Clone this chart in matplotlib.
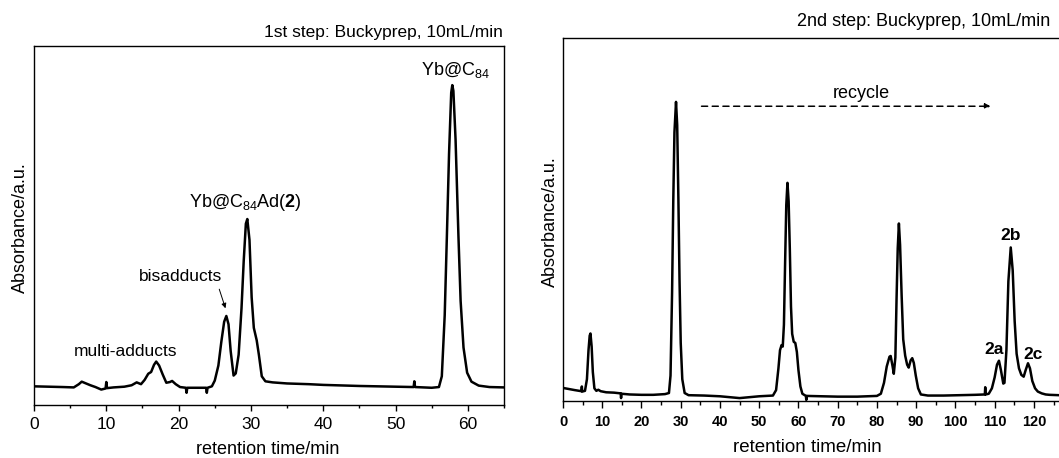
import matplotlib
matplotlib.use('Agg')
import matplotlib.pyplot as plt
from matplotlib.ticker import MultipleLocator

plt.rcParams['font.family'] = ['Liberation Sans', 'DejaVu Sans']
plt.rcParams['mathtext.fontset'] = 'custom'
plt.rcParams['mathtext.rm'] = 'Liberation Sans'
plt.rcParams['mathtext.bf'] = 'Liberation Sans:bold'
plt.rcParams['mathtext.it'] = 'Liberation Sans:italic'

# 1st step chromatogram (time in min, absorbance a.u.)
t1 = [0.0, 2.0, 4.0, 5.5, 6.2, 6.6, 7.2, 7.8, 8.5, 9.3, 9.9, 10.0, 10.1, 11.0,
      12.5, 13.5, 14.2, 14.8, 15.3, 15.8, 16.2, 16.6, 16.9, 17.3, 17.8, 18.3,
      18.8, 19.1, 19.6, 20.2, 21.0, 21.1, 21.2, 22.5, 23.8, 23.9, 24.0, 24.6,
      25.0, 25.5, 25.9, 26.3, 26.6, 26.9, 27.2, 27.6, 27.9, 28.3, 28.7, 29.0,
      29.3, 29.5, 29.8, 30.1, 30.4, 30.8, 31.1, 31.5, 32.0, 33.0, 35.0, 38.0,
      40.0, 45.0, 50.0, 52.5, 52.6, 52.7, 55.0, 56.0, 56.4, 56.8, 57.1, 57.4,
      57.7, 57.85, 58.0, 58.3, 58.7, 59.0, 59.4, 59.9, 60.5, 61.5, 63.0, 65.0]
a1 = [0.052, 0.051, 0.050, 0.049, 0.058, 0.065, 0.060, 0.055, 0.050, 0.043,
      0.046, 0.064, 0.047, 0.049, 0.051, 0.055, 0.063, 0.058, 0.070, 0.087,
      0.092, 0.112, 0.121, 0.110, 0.085, 0.062, 0.064, 0.067, 0.058, 0.050,
      0.048, 0.034, 0.048, 0.048, 0.048, 0.034, 0.048, 0.052, 0.068, 0.110,
      0.175, 0.232, 0.248, 0.225, 0.150, 0.082, 0.088, 0.140, 0.270, 0.400,
      0.505, 0.518, 0.460, 0.300, 0.215, 0.180, 0.140, 0.080, 0.066, 0.063,
      0.060, 0.058, 0.056, 0.053, 0.051, 0.050, 0.066, 0.050, 0.048, 0.050,
      0.080, 0.250, 0.470, 0.700, 0.870, 0.891, 0.875, 0.740, 0.470, 0.290,
      0.160, 0.090, 0.065, 0.054, 0.050, 0.049]

# 2nd step chromatogram (recycling)
t2 = [0.0, 1.5, 3.0, 4.7, 4.8, 4.9, 5.6, 6.1, 6.5, 6.8, 7.0, 7.3, 7.6, 8.0,
      8.5, 9.0, 9.6, 11.0, 13.0, 14.7, 14.8, 14.9, 17.0, 20.0, 23.0, 26.0,
      27.0, 27.4, 27.8, 28.1, 28.4, 28.8, 29.1, 29.4, 29.7, 30.0, 30.4, 31.0,
      32.0, 36.0, 40.0, 45.0, 50.0, 53.5, 54.3, 54.9, 55.3, 55.7, 56.0, 56.3,
      56.6, 56.9, 57.2, 57.5, 57.8, 58.1, 58.4, 58.8, 59.2, 59.6, 60.0, 60.5,
      61.0, 61.9, 62.0, 62.1, 66.0, 70.0, 75.0, 80.0, 81.0, 81.8, 82.5, 83.2,
      83.5, 84.0, 84.3, 84.7, 85.0, 85.3, 85.6, 85.9, 86.3, 86.7, 87.2, 87.7,
      88.1, 88.6, 89.0, 89.4, 89.9, 90.5, 91.2, 93.0, 97.0, 101.0, 105.0,
      107.5, 107.6, 107.7, 108.5, 109.3, 110.0, 110.6, 111.1, 111.6, 112.2,
      112.5, 113.0, 113.5, 114.1, 114.6, 115.1, 115.6, 116.2, 116.8, 117.4,
      117.9, 118.5, 119.0, 119.6, 120.3, 121.0, 122.0, 123.0, 124.0, 126.4]
a2 = [0.036, 0.033, 0.030, 0.027, 0.040, 0.026, 0.028, 0.060, 0.140, 0.180,
      0.186, 0.150, 0.080, 0.035, 0.028, 0.031, 0.027, 0.024, 0.023, 0.021,
      0.008, 0.020, 0.018, 0.017, 0.017, 0.019, 0.022, 0.070, 0.300, 0.550,
      0.740, 0.824, 0.760, 0.560, 0.330, 0.160, 0.060, 0.022, 0.016, 0.015,
      0.013, 0.008, 0.013, 0.015, 0.030, 0.090, 0.140, 0.154, 0.150, 0.210,
      0.380, 0.540, 0.601, 0.550, 0.420, 0.260, 0.185, 0.163, 0.160, 0.135,
      0.085, 0.040, 0.020, 0.014, 0.003, 0.014, 0.013, 0.012, 0.012, 0.014,
      0.020, 0.050, 0.095, 0.122, 0.124, 0.095, 0.075, 0.120, 0.280, 0.420,
      0.489, 0.430, 0.290, 0.170, 0.125, 0.100, 0.092, 0.112, 0.118, 0.105,
      0.070, 0.035, 0.018, 0.015, 0.015, 0.016, 0.017, 0.018, 0.038, 0.018,
      0.020, 0.035, 0.065, 0.100, 0.111, 0.085, 0.048, 0.050, 0.140, 0.330,
      0.423, 0.360, 0.220, 0.130, 0.090, 0.072, 0.067, 0.085, 0.104, 0.090,
      0.055, 0.035, 0.026, 0.021, 0.018, 0.017, 0.016]

W, H = 1059, 458
fig = plt.figure(figsize=(W / 100, H / 100), dpi=100)

ax1 = fig.add_axes([34 / W, 53 / H, 470 / W, 359 / H])
ax2 = fig.add_axes([563 / W, 57 / H, 496 / W, 363 / H])

ax1.plot(t1, a1, color='k', lw=1.8)
ax2.plot(t2, a2, color='k', lw=1.8)

ax1.set_xlim(0, 65)
ax1.set_ylim(0, 1)
ax2.set_xlim(0, 126.4)
ax2.set_ylim(0, 1)
ax2.spines['right'].set_visible(False)

for ax in (ax1, ax2):
    ax.xaxis.set_major_locator(MultipleLocator(10))
    ax.xaxis.set_minor_locator(MultipleLocator(5))
    ax.tick_params(axis='y', left=False, labelleft=False)
    for s in ax.spines.values():
        s.set_linewidth(1.0)

ax1.tick_params(axis='x', which='major', direction='out', length=4.5, width=1.0,
                pad=4, labelsize=12.5)
ax1.tick_params(axis='x', which='minor', direction='out', length=2.5, width=1.0)
ax2.tick_params(axis='x', which='major', direction='out', length=5, width=1.0,
                pad=5, labelsize=10.5)
ax2.tick_params(axis='x', which='minor', direction='out', length=3, width=1.0)
for lab in ax2.get_xticklabels():
    lab.set_fontweight('bold')

# axis labels and titles
fig.text(268 / W, 1 - 450 / H, 'retention time/min', ha='center', va='center', fontsize=13)
fig.text(807 / W, 1 - 447 / H, 'retention time/min', ha='center', va='center', fontsize=13.5)
fig.text(20 / W, 1 - 228 / H, 'Absorbance/a.u.', rotation=90, ha='center', va='center', fontsize=13)
fig.text(550 / W, 1 - 222 / H, 'Absorbance/a.u.', rotation=90, ha='center', va='center', fontsize=13)
fig.text(503 / W, 1 - 32 / H, '1st step: Buckyprep, 10mL/min', ha='right', va='center', fontsize=12.5)
fig.text(1050 / W, 1 - 22 / H, '2nd step: Buckyprep, 10mL/min', ha='right', va='center', fontsize=13)

# peak labels, step 1
ax1.text(58.3, 0.933, r'Yb@C$_{\mathrm{84}}$', ha='center', va='center', fontsize=13)
ax1.text(29.3, 0.563, r'Yb@C$_{\mathrm{84}}$Ad($\mathbf{2}$)', ha='center', va='center', fontsize=13)
ax1.text(20.2, 0.357, 'bisadducts', ha='center', va='center', fontsize=12.5)
ax1.text(12.6, 0.150, 'multi-adducts', ha='center', va='center', fontsize=12.5)
ax1.annotate('', xy=(26.6, 0.262), xytext=(25.5, 0.33),
             arrowprops=dict(arrowstyle='-|>', lw=0.7, color='k', mutation_scale=7))

# peak labels, step 2
ax2.text(76.0, 0.847, 'recycle', ha='center', va='center', fontsize=13)
ax2.annotate('', xy=(109.0, 0.812), xytext=(35.3, 0.812),
             arrowprops=dict(arrowstyle='-|>', lw=1.1, color='k', ls=(0, (4, 3)),
                             mutation_scale=8, shrinkA=0, shrinkB=0))
ax2.text(114.1, 0.457, '2b', ha='center', va='center', fontsize=12.5, fontweight='bold')
ax2.text(109.8, 0.142, '2a', ha='center', va='center', fontsize=12.5, fontweight='bold')
ax2.text(119.8, 0.129, '2c', ha='center', va='center', fontsize=12.5, fontweight='bold')

fig.savefig('out.png', dpi=100)
